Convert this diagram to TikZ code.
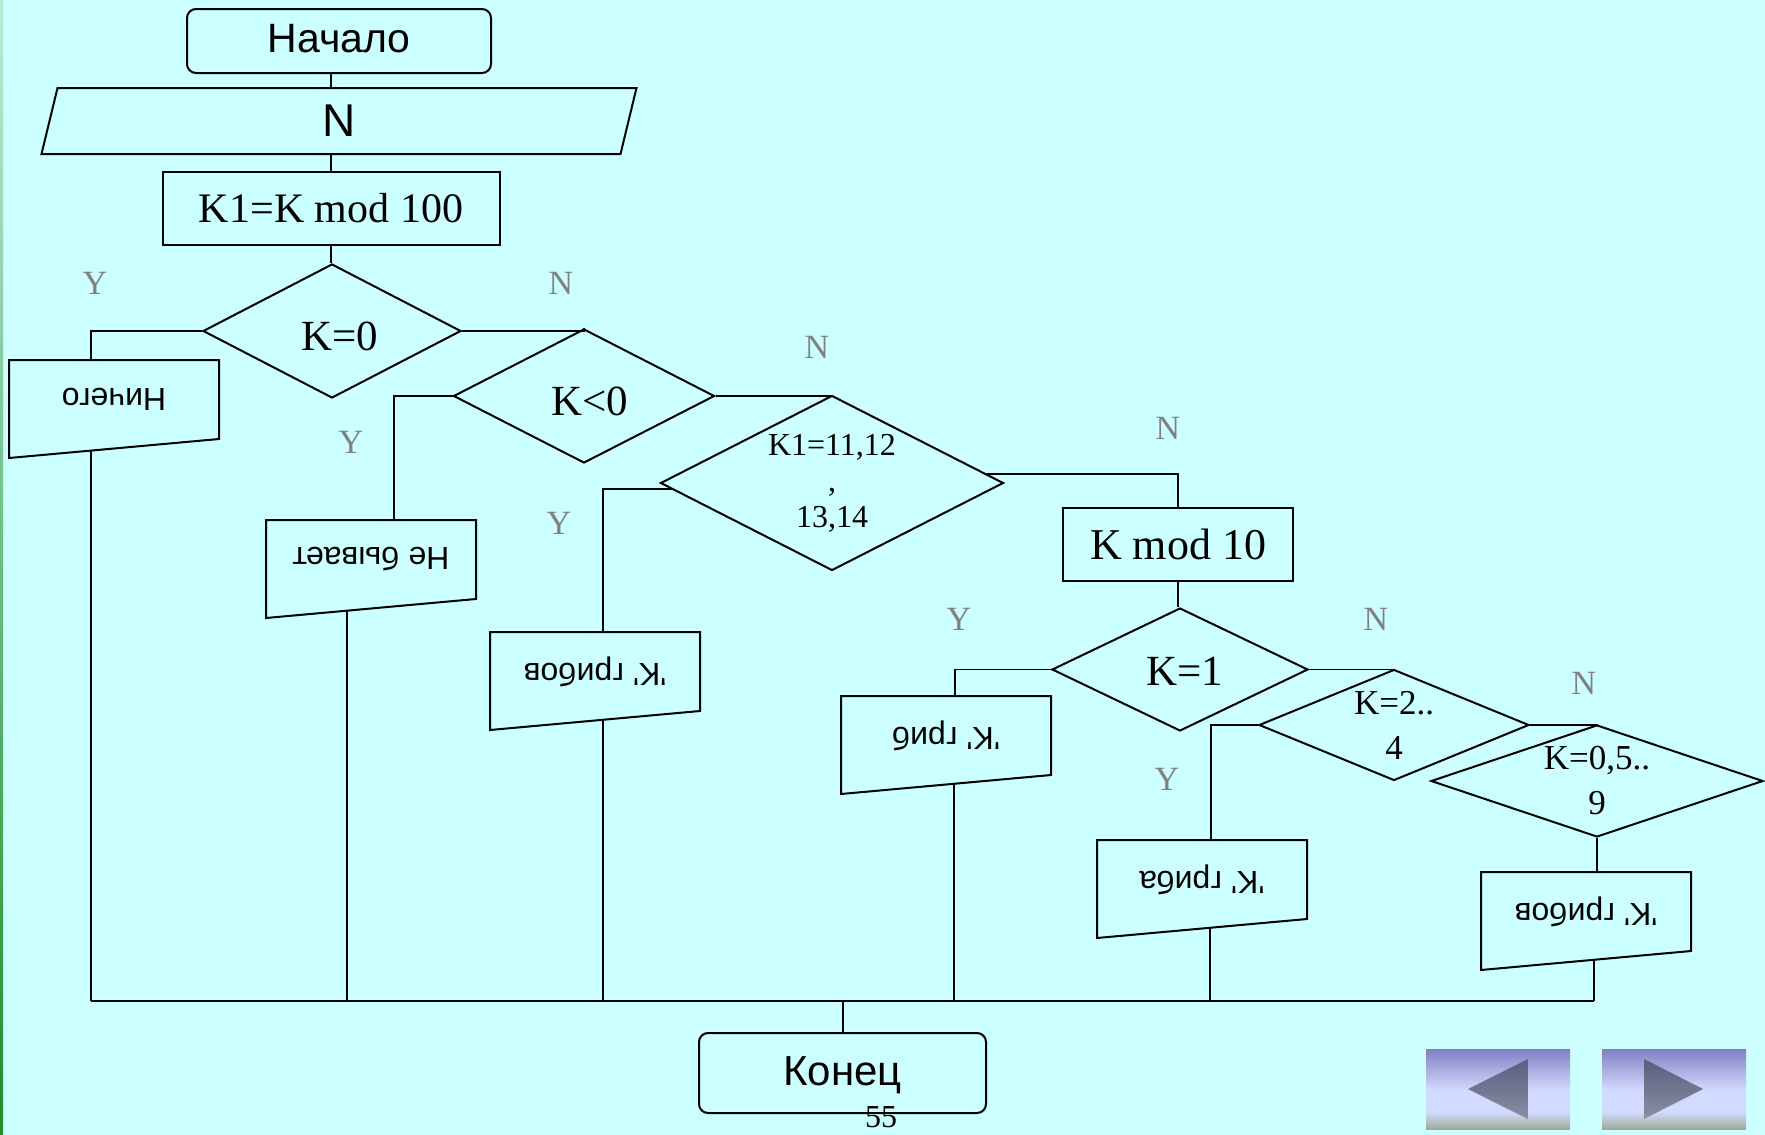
\documentclass[tikz,border=0pt]{standalone}
\usepackage{fontspec}
\usepackage{graphicx}
\setmainfont{Liberation Serif}
\newfontfamily\cyrfont{Liberation Sans}
\usetikzlibrary{shapes.geometric,calc}
\definecolor{bgcyan}{HTML}{CCFFFF}
\definecolor{lblgray}{HTML}{808080}
\definecolor{stripetop}{HTML}{B8EBD6}
\definecolor{stripebot}{HTML}{1E8C2A}
\definecolor{btntop}{HTML}{8080C4}
\definecolor{btnmid}{HTML}{D2DAFF}
\definecolor{btnbot}{HTML}{9CAC98}
\definecolor{tritop}{HTML}{5A5E80}
\definecolor{tribot}{HTML}{8A90A2}
\newcommand{\drawout}[1]{\draw (#1.north west) -- (#1.north east) -- (#1.south east) -- ([yshift=-19pt]#1.south west) -- cycle;}

\begin{document}
\begin{tikzpicture}[x=1pt,y=-1pt,line width=2pt,
  termbox/.style={draw,rectangle,rounded corners=9pt,inner sep=0,font=\cyrfont\fontsize{41}{48}\selectfont},
  procbox/.style={draw,rectangle,inner sep=0,minimum height=73,font=\fontsize{42}{50}\selectfont},
  decide/.style={draw,diamond,inner sep=0},
  dtext/.style={align=center,inner sep=0,font=\fontsize{43}{50}\selectfont},
  outbox/.style={rectangle,inner sep=0,minimum width=208,minimum height=77,font=\cyrfont\fontsize{32}{36}\selectfont},
  yn/.style={text=lblgray,inner sep=0,font=\fontsize{34}{40}\selectfont},
  link/.style={line width=1.9pt}]
\useasboundingbox (0,0) rectangle (1765,1135);
\fill[bgcyan] (0,0) rectangle (1765,1135);
\shade[top color=stripetop,bottom color=stripebot] (0,0) rectangle (3,1135);

\node[termbox,minimum width=304,minimum height=64,text depth=0.45em] (start) at (339,41) {Начало};
\node[rectangle,minimum width=577,minimum height=64,inner sep=0,font=\cyrfont\fontsize{46}{50}\selectfont] (in) at (339,121) {N};
\draw ([xshift=8pt]in.north west) -- ([xshift=8pt]in.north east) -- ([xshift=-8pt]in.south east) -- ([xshift=-8pt]in.south west) -- cycle;
\node[procbox,minimum width=337] (r1) at (331,208.5) {K1=K mod 100};
\node[decide,minimum width=258,minimum height=134] (d0) at (332,331) {};
\node[dtext] (d0t) at ($(d0)+(8,5)$) {K=0};
\node[decide,minimum width=261,minimum height=134] (d1) at (584,396) {};
\node[dtext] (d1t) at ($(d1)+(6,5)$) {K<0};
\node[decide,minimum width=343,minimum height=175] (d2) at (832,483) {};
\node[dtext,font=\fontsize{32}{36}\selectfont] (d2t) at (d2) {K1=11,12\\,\\13,14};
\node[procbox,minimum width=230,font=\fontsize{44}{50}\selectfont] (r2) at (1178,544.5) {K mod 10};
\node[decide,minimum width=256,minimum height=123] (d3) at (1180,669.5) {};
\node[dtext] (d3t) at ($(d3)+(5,2)$) {K=1};
\node[decide,minimum width=270,minimum height=111] (d4) at (1394,725) {};
\node[dtext,font=\fontsize{35}{45}\selectfont] (d4t) at (d4) {K=2..\\4};
\node[decide,minimum width=332,minimum height=112] (d5) at (1597,781) {};
\node[dtext,font=\fontsize{35}{45}\selectfont] (d5t) at (d5) {K=0,5..\\9};

\node[outbox] (o1) at (114,399.5) {\rotatebox{180}{Ничего}};
\node[outbox] (o2) at (371,559.5) {\rotatebox{180}{Не бывает}};
\node[outbox] (o3) at (595,671.5) {\rotatebox{180}{'K' грибов}};
\node[outbox] (o4) at (946,735.5) {\rotatebox{180}{'K' гриб}};
\node[outbox] (o5) at (1202,879.5) {\rotatebox{180}{'K' гриба}};
\node[outbox] (o6) at (1586,911.5) {\rotatebox{180}{'K' грибов}};
\drawout{o1}
\drawout{o2}
\drawout{o3}
\drawout{o4}
\drawout{o5}
\drawout{o6}

\node[termbox,minimum width=287,minimum height=80,text depth=0.35em,font=\cyrfont\fontsize{42}{48}\selectfont] (end) at (842.5,1073) {Конец};
\node[inner sep=0,font=\fontsize{32}{36}\selectfont] (pg) at (881,1117) {55};

\node[yn] (y0) at (95,283) {Y};
\node[yn] (n0) at (561,283) {N};
\node[yn] (y1) at (351,442) {Y};
\node[yn] (n1) at (817,347) {N};
\node[yn] (y2) at (559,523) {Y};
\node[yn] (n2) at (1168,428) {N};
\node[yn] (y3) at (959,619) {Y};
\node[yn] (n3) at (1376,619) {N};
\node[yn] (y4) at (1167,779) {Y};
\node[yn] (n4) at (1584,683) {N};

\draw[link] (start.south -| r1.north) -- (in.north -| r1.north);
\draw[link] (in.south -| r1.north) -- (r1.north);
\draw[link] (r1.south) -- (r1.south |- d0.north);
\draw[link] (d0.west) -| ([xshift=-23pt]o1.north);
\draw[link] (d0.east) -| (d1.north);
\draw[link] (d1.west) -| ([xshift=23pt]o2.north);
\draw[link] (d1.east) -| (d2.north);
\draw[link] ($(d2.south)!0.93!(d2.west)$) -| ([xshift=8pt]o3.north);
\draw[link] ($(d2.north)!0.9!(d2.east)$) -| (r2.north);
\draw[link] (r2.south) -- (r2.south |- d3.north);
\draw[link] (d3.west) -| ([xshift=9pt]o4.north);
\draw[link] (d3.east) -| (d4.north);
\draw[link] (d4.west) -| ([xshift=9pt]o5.north);
\draw[link] (d4.east) -| (d5.north);
\draw[link] (d5.south) -- (d5.south |- o6.north);

\coordinate (o1b) at ($([yshift=-19pt]o1.south west)!0.39!(o1.south east)$);
\coordinate (o2b) at ($([yshift=-19pt]o2.south west)!0.385!(o2.south east)$);
\coordinate (o3b) at ($([yshift=-19pt]o3.south west)!0.54!(o3.south east)$);
\coordinate (o4b) at ($([yshift=-19pt]o4.south west)!0.54!(o4.south east)$);
\coordinate (o5b) at ($([yshift=-19pt]o5.south west)!0.54!(o5.south east)$);
\coordinate (o6b) at ($([yshift=-19pt]o6.south west)!0.54!(o6.south east)$);
\coordinate (bus) at (843,1001);
\draw[link] (o1b) -- (o1b |- bus);
\draw[link] (o2b) -- (o2b |- bus);
\draw[link] (o3b) -- (o3b |- bus);
\draw[link] (o4b) -- (o4b |- bus);
\draw[link] (o5b) -- (o5b |- bus);
\draw[link] (o6b) -- (o6b |- bus);
\draw[line width=2.2pt] (o1b |- bus) -- (o6b |- bus);
\draw[link] (bus) -- (bus |- end.north);

\shade[top color=btntop,bottom color=btnmid] (1426,1049) rectangle (1570,1090);
\fill[btnmid] (1426,1090) rectangle (1570,1112);
\shade[top color=btnmid,bottom color=btnbot] (1426,1112) rectangle (1570,1129);
\shade[top color=btntop,bottom color=btnmid] (1602,1049) rectangle (1746,1090);
\fill[btnmid] (1602,1090) rectangle (1746,1112);
\shade[top color=btnmid,bottom color=btnbot] (1602,1112) rectangle (1746,1129);
\shade[top color=tritop,bottom color=tribot] (1468,1089) -- (1528,1059) -- (1528,1119) -- cycle;
\shade[top color=tritop,bottom color=tribot] (1644,1059) -- (1703,1089) -- (1644,1119) -- cycle;
\end{tikzpicture}
\end{document}
